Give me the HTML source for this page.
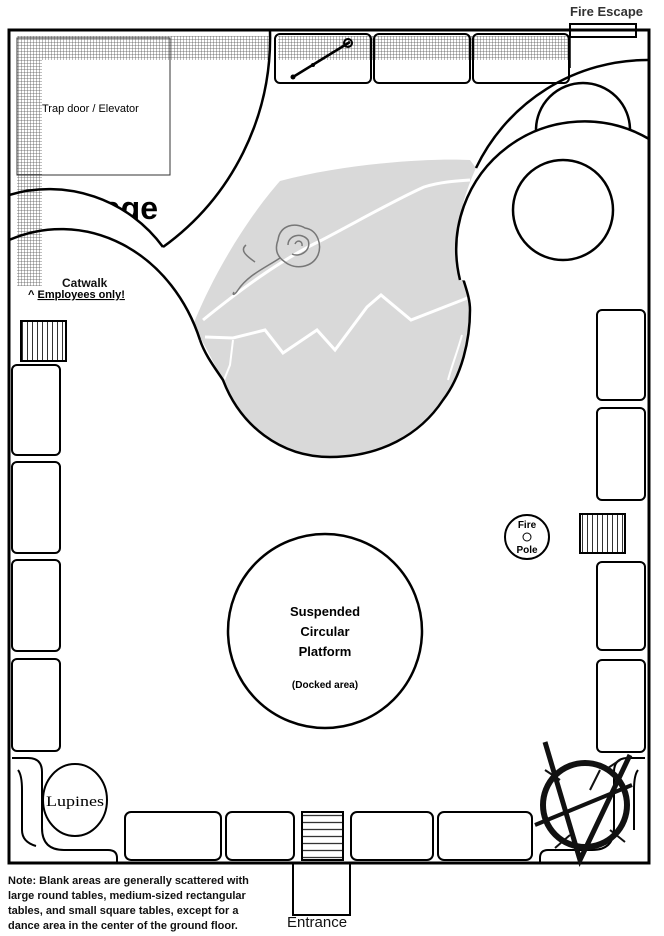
<!DOCTYPE html>
<html><head><meta charset="utf-8"><style>
html,body{margin:0;padding:0;background:#fff;}
svg{display:block;font-family:"Liberation Sans",Arial,sans-serif;}
</style></head><body>
<svg width="664" height="936" viewBox="0 0 664 936" xmlns="http://www.w3.org/2000/svg">
<defs>
<pattern id="grid" width="3" height="3" patternUnits="userSpaceOnUse">
<rect width="3" height="3" fill="#fff"/><path d="M0 0H3M0 0V3" stroke="#555" stroke-width="0.8"/>
</pattern>
<pattern id="vstr" width="5" height="10" patternUnits="userSpaceOnUse"><path d="M2.5 0V10" stroke="#333" stroke-width="1"/></pattern>
<pattern id="hstr" width="10" height="7" patternUnits="userSpaceOnUse"><path d="M0 3.5H10" stroke="#333" stroke-width="1.3"/></pattern>
<clipPath id="bld"><rect x="9" y="30" width="640" height="833"/></clipPath>
</defs>

<text x="158" y="219" font-size="32" font-weight="bold" text-anchor="end">Stage</text>
<g clip-path="url(#bld)">
<circle cx="50" cy="330" r="141" fill="#fff"/>
</g>

<rect x="17" y="36" width="253" height="24" fill="url(#grid)"/>
<rect x="17" y="36" width="25" height="250" fill="url(#grid)"/>
<rect x="278" y="36" width="290" height="24" fill="url(#grid)"/>
<rect x="17" y="38" width="153" height="137" fill="none" stroke="#333" stroke-width="1"/>
<text x="42" y="112" font-size="11">Trap door / Elevator</text>

<path d="M193,325 C215,270 250,215 280,181 C340,165 420,158 470,160 L476,168 C466,190 458,215 457,245 C458,275 470,290 470,310 C470,340 462,375 443,400 C420,435 380,457 330,457 C280,457 240,425 223,380 C212,360 205,345 193,325 Z" fill="#d9d9d9"/>
<g fill="none" stroke="#fff" stroke-width="3">
<path d="M203,320 C240,290 280,260 322,240 C360,220 395,200 424,187 C440,182 455,181 470,180"/>
<path d="M205,337 L233,338 L265,330 L283,353 L317,330 L335,350 L367,307 L381,295 L411,320 L470,297"/>
<path d="M233,340 L230,365 L222,385" stroke-width="2"/>
<path d="M462,335 C458,350 452,365 448,380" stroke-width="2"/>
</g>

<g clip-path="url(#bld)" fill="none" stroke="#000" stroke-width="2.5">
<path d="M270,31 A258,258 0 0 1 163,247"/>
<path d="M9,195 A141,141 0 0 1 163,247"/>
<path d="M9,240 A148,170 0 0 1 200,340"/>
<path d="M200,340 C205,355 215,368 223,380 C240,425 280,457 330,457 C380,457 420,435 443,400 C462,375 470,340 470,310 C470,290 458,275 457,245"/>
</g>
<g clip-path="url(#bld)">
<circle cx="583" cy="130" r="47" fill="#fff" stroke="#000" stroke-width="2.5"/>
<path d="M460,280 A128,128 0 0 1 649,139 L649,300 Z" fill="#fff"/>
<path d="M476,168 A190,190 0 0 1 649,60" fill="none" stroke="#000" stroke-width="2.5"/>
<path d="M460,280 A128,128 0 0 1 649,139" fill="none" stroke="#000" stroke-width="2.5"/>
<circle cx="563" cy="210" r="50" fill="none" stroke="#000" stroke-width="2.5"/>
</g>

<g fill="none" stroke="#777" stroke-width="1.5">
<path d="M278,240 C280,225 295,222 305,228 C318,230 322,245 318,255 C312,268 295,270 285,262 C276,256 275,248 278,240 Z"/>
<path d="M288,245 C288,235 302,232 308,240 C312,250 300,258 292,254"/>
<path d="M295,244 C297,239 303,241 302,246"/>
<path d="M280,258 C265,268 248,275 238,290 C234,296 232,295 234,292 M255,262 C245,255 240,250 246,245"/>
</g>
<text x="62" y="287" font-size="12" font-weight="bold" fill="#111">Catwalk</text>
<text x="28" y="298" font-size="11" font-weight="bold">^ <tspan text-decoration="underline">Employees only!</tspan></text>

<g fill="none" stroke="#000" stroke-width="2">
<rect x="275" y="34" width="96" height="49" rx="5"/>
<rect x="374" y="34" width="96" height="49" rx="5"/>
<rect x="473" y="34" width="96" height="49" rx="5"/>
</g>
<path d="M293,77 L350,42" stroke="#000" stroke-width="2.5"/>
<circle cx="293" cy="77" r="2.5"/><circle cx="313" cy="65" r="2"/><circle cx="348" cy="43" r="4" fill="none" stroke="#000" stroke-width="2"/>
<path d="M570,30 V68" stroke="#000" stroke-width="1.5"/>
<rect x="570" y="24" width="66" height="13" fill="#fff" stroke="#000" stroke-width="2"/>
<text x="570" y="16" font-size="13" font-weight="bold" fill="#333">Fire Escape</text>

<rect x="9" y="30" width="640" height="833" fill="none" stroke="#000" stroke-width="3"/>

<rect x="21" y="321" width="45" height="40" fill="url(#vstr)" stroke="#000" stroke-width="2"/>
<g fill="#fff" stroke="#000" stroke-width="2">
<rect x="12" y="365" width="48" height="90" rx="5"/>
<rect x="12" y="462" width="48" height="91" rx="5"/>
<rect x="12" y="560" width="48" height="91" rx="5"/>
<rect x="12" y="659" width="48" height="92" rx="5"/>
<rect x="597" y="310" width="48" height="90" rx="5"/>
<rect x="597" y="408" width="48" height="92" rx="5"/>
<rect x="597" y="562" width="48" height="88" rx="5"/>
<rect x="597" y="660" width="48" height="92" rx="5"/>
<rect x="125" y="812" width="96" height="48" rx="6"/>
<rect x="226" y="812" width="68" height="48" rx="6"/>
<rect x="351" y="812" width="82" height="48" rx="6"/>
<rect x="438" y="812" width="94" height="48" rx="6"/>
</g>
<g fill="none" stroke="#000" stroke-width="2">
<path d="M12,758 H28 Q42,758 42,772 V828 Q42,850 64,850 H108 Q117,850 117,858 V862"/>
<path d="M18,770 Q22,775 22,790 V830 Q22,842 36,846"/>
<path d="M645,758 H628 Q614,758 614,772 V828 Q614,850 592,850 H548 Q540,850 540,858 V862"/>
<path d="M638,770 Q634,775 634,790 V830"/>
</g>
<rect x="580" y="514" width="45" height="39" fill="url(#vstr)" stroke="#000" stroke-width="2"/>
<rect x="302" y="812" width="41" height="48" fill="url(#hstr)" stroke="#000" stroke-width="2"/>

<circle cx="527" cy="537" r="22" fill="#fff" stroke="#000" stroke-width="2"/>
<circle cx="527" cy="537" r="4" fill="none" stroke="#000" stroke-width="1"/>
<text x="527" y="528" font-size="10" font-weight="bold" text-anchor="middle">Fire</text>
<text x="527" y="553" font-size="10" font-weight="bold" text-anchor="middle">Pole</text>

<circle cx="325" cy="631" r="97" fill="#fff" stroke="#000" stroke-width="2.5"/>
<text x="325" y="616" font-size="13" font-weight="bold" text-anchor="middle">Suspended</text>
<text x="325" y="636" font-size="13" font-weight="bold" text-anchor="middle">Circular</text>
<text x="325" y="656" font-size="13" font-weight="bold" text-anchor="middle">Platform</text>
<text x="325" y="688" font-size="10" font-weight="bold" text-anchor="middle">(Docked area)</text>

<ellipse cx="75" cy="800" rx="32" ry="36" fill="#fff" stroke="#000" stroke-width="2"/>
<text x="75" y="806" font-size="15" font-family="Liberation Serif,serif" text-anchor="middle" textLength="58" lengthAdjust="spacingAndGlyphs">Lupines</text>

<g fill="none" stroke="#111">
<circle cx="585" cy="805" r="42" stroke-width="6"/>
<path d="M545,742 L580,860 L630,755" stroke-width="5"/>
<path d="M535,825 L632,785" stroke-width="4"/>
<path d="M560,780 L545,770 M605,770 L620,760 M570,835 L555,848 M610,830 L625,842 M590,790 L600,770" stroke-width="2"/>
</g>

<path d="M293,863 V915 H350 V863" fill="none" stroke="#000" stroke-width="2"/>
<text x="287" y="927" font-size="15" fill="#111">Entrance</text>

<g font-size="11" font-weight="bold" fill="#111">
<text x="8" y="884">Note: Blank areas are generally scattered with</text>
<text x="8" y="899">large round tables, medium-sized rectangular</text>
<text x="8" y="914">tables, and small square tables, except for a</text>
<text x="8" y="929">dance area in the center of the ground floor.</text>
</g>
</svg>
</body></html>
